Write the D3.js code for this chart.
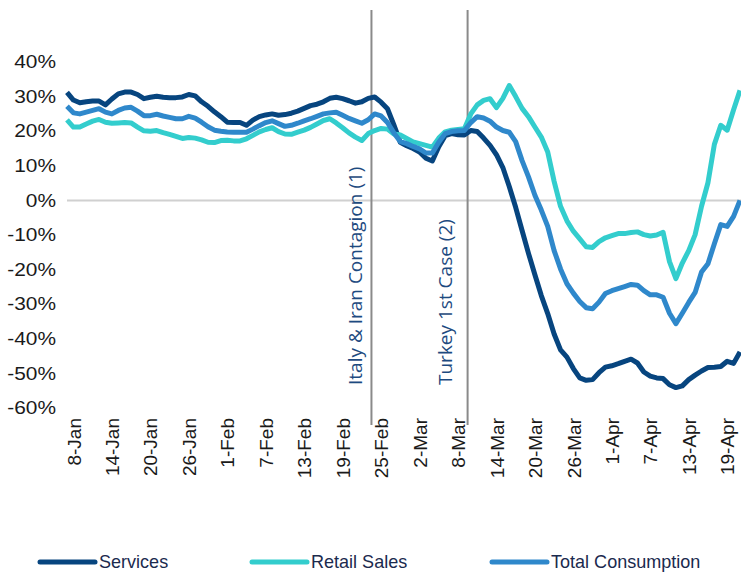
<html>
<head><meta charset="utf-8"/></head>
<script src="https://d3js.org/d3.v7.min.js"></script>
<style>
  body {margin: 0; background: #fff;}
  .tick text {font-family: "Liberation Sans", Arial, sans-serif; fill: #1a1a1a;}
</style>
<body>
<svg width="741" height="572"></svg>
<script>

// daily values, 7-Jan .. 21-Apr 2020 (%)
var services = [31.2,29,28.2,28.5,28.7,28.7,27.6,29.3,30.8,31.3,31.3,30.6,29.4,29.8,30.1,29.8,29.7,29.7,29.9,30.6,
  30.2,28.5,27.2,25.6,24.2,22.6,22.5,22.5,21.7,23.2,24.2,24.7,25,24.6,24.8,25.2,25.8,26.6,27.4,27.8,
  28.5,29.5,29.8,29.4,28.8,28.1,28.5,29.5,29.9,28.4,26.5,21.8,16.8,15.8,15,14,12.2,11.4,15.5,18.7,
  19.3,19,18.9,20.2,19.9,18,15.9,13.2,9.5,4,-2,-8.7,-15.3,-21.5,-27.5,-32.7,-38.6,-43.2,-45.3,-48.6,
  -51.3,-52,-51.8,-49.8,-48.2,-47.8,-47.2,-46.5,-45.9,-47,-49.6,-50.8,-51.3,-51.5,-53.3,-54.1,-53.6,-51.8,-50.5,-49.3,
  -48.3,-48.2,-48,-46.5,-47.1,-43.8];

var retail = [23.3,21.2,21.2,22.1,22.9,23.4,22.6,22.3,22.4,22.5,22.4,21.2,20.1,20,20.2,19.6,19.1,18.5,17.9,18.2,
  18,17.5,16.8,16.7,17.3,17.4,17.2,17.2,17.8,18.8,19.8,20.5,21,19.9,19.2,19.1,19.7,20.3,21.1,22.1,
  23.1,23.6,22.4,21,19.5,18.3,17.3,19.3,20.2,20.8,20.6,19.2,18.9,17.9,16.9,16.4,15.9,15.4,18,19.8,
  20.3,20.5,20.7,25,27.6,28.9,29.4,26.8,29.5,33.2,30,26.6,24.2,21.2,18.3,14,5.5,-1.7,-5.9,-8.9,
  -11.1,-13.4,-13.6,-11.9,-10.8,-10.2,-9.6,-9.6,-9.3,-9.1,-9.9,-10.3,-10,-9.2,-17.7,-22.6,-18.1,-14.5,-9.9,-1.7,
  5.1,16.2,21.7,20.3,26.2,31.8];

var total = [27.2,25.3,25,25.5,26,26.5,25.5,25,26,26.7,26.9,25.8,24.5,24.5,24.9,24.4,24,23.6,23.6,24.3,
  23.8,22.6,21.3,20.3,20,19.8,19.7,19.7,19.7,20.6,21.6,22.5,23,22.2,21.4,21.7,22.3,23,23.6,24.3,
  25,25.3,25.5,24.6,23.7,23,22.3,23.3,25,24.4,22.5,19.5,17,16.4,15.6,14.9,13.7,13.7,16.8,19.3,
  19.9,20.1,20.2,22.5,24.2,23.8,22.9,21.2,20.2,19.7,17,11.5,6.8,1.5,-2.8,-7.5,-14.5,-19.8,-24.1,-26.8,
  -29.2,-31,-31.3,-29.4,-26.9,-26.1,-25.5,-24.9,-24.3,-24.5,-26.1,-27.3,-27.3,-28,-32.6,-35.6,-32.6,-29.5,-26.6,-20.7,
  -18.3,-12.5,-7,-7.5,-4.6,0];

var tickLabels = ["8-Jan","14-Jan","20-Jan","26-Jan","1-Feb","7-Feb","13-Feb","19-Feb","25-Feb",
  "2-Mar","8-Mar","14-Mar","20-Mar","26-Mar","1-Apr","7-Apr","13-Apr","19-Apr"];
var yTicks = [40,30,20,10,0,-10,-20,-30,-40,-50,-60];

// event markers: day index (0 = 7-Jan) and label
var eventDays = [48, 63];
var eventTexts = ["Italy & Iran Contagion (1)", "Turkey 1st Case (2)"];
var eventLabelDx = [-9, -16];

var series = [
  {name: "Services", values: services, color: "#07457f"},
  {name: "Retail Sales", values: retail, color: "#33cdcd"},
  {name: "Total Consumption", values: total, color: "#2f88cb"}
];

var svg = d3.select("svg");

var x = d3.scaleLinear().domain([0, services.length - 1]).range([67, 740]);
var y = d3.scaleLinear().domain([-60, 40]).range([408, 62]);

// y axis labels, no line
var yAxis = svg.append("g")
  .attr("transform", "translate(56,0)")
  .call(d3.axisLeft(y).tickValues(yTicks).tickSize(0).tickPadding(0).tickFormat(function(d) { return d + "%"; }));
yAxis.select(".domain").remove();
yAxis.selectAll("text").style("font-size", "18px").attr("transform", "scale(1.16,1)");

// zero line
svg.append("line")
  .attr("x1", 67).attr("x2", 741)
  .attr("y1", y(0)).attr("y2", y(0))
  .attr("stroke", "#d0d0d0").attr("stroke-width", 2);

// x axis labels, rotated
var xAxis = svg.append("g")
  .attr("transform", "translate(0,418)")
  .call(d3.axisBottom(x).tickValues(d3.range(1, 105, 6)).tickSize(0).tickPadding(0)
    .tickFormat(function(d, i) { return tickLabels[i]; }));
xAxis.select(".domain").remove();
xAxis.selectAll("text")
  .style("font-size", "19px")
  .attr("text-anchor", "end")
  .attr("transform", "rotate(-90)")
  .attr("x", 0).attr("y", 0).attr("dy", "0.35em");

// event lines (drawn on the boundary before the event day)
svg.selectAll(".event")
  .data(eventDays)
  .enter()
  .append("line")
  .attr("x1", function(d) { return x(d - 0.5); })
  .attr("x2", function(d) { return x(d - 0.5); })
  .attr("y1", 10).attr("y2", 425)
  .attr("stroke", "#8a8a8a").attr("stroke-width", 2);

svg.selectAll(".evlabel")
  .data(eventDays)
  .enter()
  .append("text")
  .attr("transform", function(d, i) { return "translate(" + (x(d - 0.5) + eventLabelDx[i]) + ",385) rotate(-90)"; })
  .attr("font-family", "'Open Sans', sans-serif")
  .attr("font-size", "19px")
  .attr("fill", "#1d4a80")
  .text(function(d, i) { return eventTexts[i]; });

var line = d3.line()
  .x(function(d, i) { return x(i); })
  .y(function(d) { return y(d); });

svg.append("g")
  .selectAll("path")
  .data(series)
  .enter()
  .append("path")
  .attr("d", function(d) { return line(d.values); })
  .attr("fill", "none")
  .attr("stroke", function(d) { return d.color; })
  .attr("stroke-width", 5)
  .attr("stroke-linejoin", "round");

// legend
var legendX = [40, 252, 492];
var legend = svg.append("g")
  .selectAll("g")
  .data(series)
  .enter()
  .append("g")
  .attr("transform", function(d, i) { return "translate(" + legendX[i] + ",562)"; });
legend.append("line")
  .attr("x1", 0).attr("x2", 55)
  .attr("stroke", function(d) { return d.color; })
  .attr("stroke-width", 5).attr("stroke-linecap", "round");
legend.append("text")
  .attr("transform", "translate(59,0) scale(0.95,1)")
  .attr("dy", "0.3em")
  .attr("font-family", "'Liberation Sans', Arial, sans-serif")
  .attr("font-size", "19px")
  .attr("fill", "#1b2a4e")
  .text(function(d) { return d.name; });

</script>
</body>
</html>
